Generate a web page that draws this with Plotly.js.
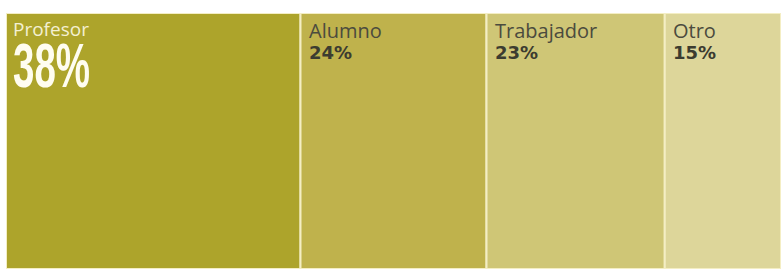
<!DOCTYPE html>
<html>
<head>
<meta charset="utf-8">
<script src="https://cdn.plot.ly/plotly-3.0.1.min.js"></script>
<style>
html,body{margin:0;padding:0;background:#ffffff;}
#chart{width:784px;height:270px;}
</style>
</head>
<body>
<div id="chart"></div>
<script>
const categories = ["Profesor", "Alumno", "Trabajador", "Otro"];
const shares = [38, 24, 23, 15];
const colors = ["#ada42b", "#bfb24c", "#cfc676", "#ddd69a"];

const bases = [];
let acc = 0;
shares.forEach(v => { bases.push(acc); acc += v; });

const traces = categories.map((c, i) => ({
  type: "bar",
  orientation: "h",
  y: [0.5],
  x: [shares[i]],
  base: [bases[i]],
  width: [1],
  name: c,
  marker: { color: colors[i], line: { color: "#f4eec4", width: 2 } },
  hoverinfo: "none",
  showlegend: false
}));

const annotations = [];
categories.forEach((c, i) => {
  const first = i === 0;
  annotations.push({
    x: bases[i], y: 1, xref: "x", yref: "y",
    xanchor: "left", yanchor: "top",
    xshift: first ? 5 : 6, yshift: first ? -1 : -2,
    text: c, showarrow: false,
    font: { family: "Open Sans, sans-serif", size: first ? 19 : 20, color: first ? "#f4f0d2" : "#4b4b3e" }
  });
  annotations.push({
    x: bases[i], y: 1, xref: "x", yref: "y",
    xanchor: "left", yanchor: "top",
    xshift: first ? 5 : 6, yshift: first ? -16 : -27,
    text: shares[i] + "%",
    showarrow: false,
    font: first
      ? { family: "Liberation Sans, Arial, sans-serif", size: 62, weight: 700, color: "#fffdf0" }
      : { family: "DejaVu Sans, sans-serif", size: 18, weight: 700, color: "#3c3c30" }
  });
});

const layout = {
  width: 784, height: 270,
  margin: { l: 6, r: 3, t: 13, b: 1, pad: 0 },
  paper_bgcolor: "#ffffff",
  plot_bgcolor: "#ffffff",
  barmode: "overlay",
  xaxis: { range: [0, 100], visible: false, fixedrange: true },
  yaxis: { range: [0, 1], visible: false, fixedrange: true },
  annotations: annotations
};

Plotly.newPlot("chart", traces, layout, { displayModeBar: false, staticPlot: true }).then(() => {
  // condense the large headline percentage horizontally (narrow display face)
  document.querySelectorAll("#chart .annotation-text").forEach(t => {
    if (t.textContent === shares[0] + "%") {
      const bb = t.getBBox();
      const s = 77 / bb.width;
      const prev = t.getAttribute("transform") || "";
      t.setAttribute("transform",
        "translate(" + bb.x + ",0) scale(" + s + ",1) translate(" + (-bb.x) + ",0) " + prev);
    }
  });
});
</script>
</body>
</html>
